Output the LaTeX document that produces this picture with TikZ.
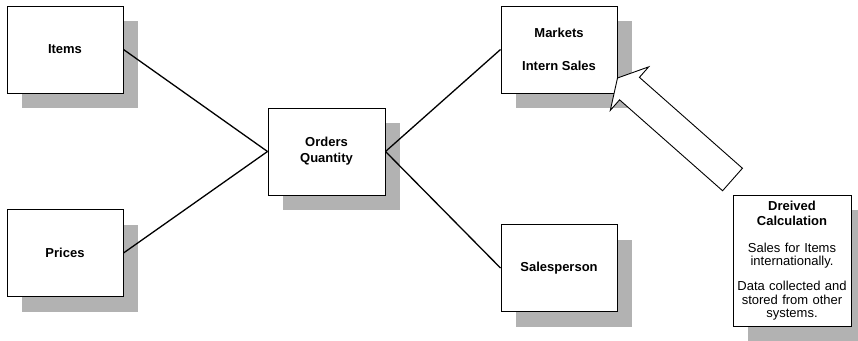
\documentclass[tikz,border=0pt]{standalone}
\usepackage{fontspec}
\setmainfont{Liberation Sans}
\usetikzlibrary{positioning,calc,shadows}
\definecolor{cInk}{HTML}{000000}
\definecolor{cShade}{HTML}{B2B2B2}
\tikzset{
  ent/.style ={draw=cInk,line width=1pt,fill=white,minimum width=116pt,minimum height=87pt,
               inner sep=2pt,align=center,font=\fontsize{13}{16}\selectfont\bfseries,
               drop shadow={shadow xshift=15pt,shadow yshift=-15pt,fill=cShade,opacity=1}},
  note/.style={ent,minimum width=118pt,minimum height=131pt,text width=114pt,
               font=\fontsize{13}{13.4}\selectfont},
  link/.style={draw=cInk,line width=1.3pt},
  fat/.style ={draw=cInk,line width=0.9pt,fill=white,line join=miter},
}
\begin{document}
\begin{tikzpicture}[x=1pt,y=-1pt]
\useasboundingbox (0,0) rectangle (858,340);
\node[ent]  (items)   at (65,49.5)    {Items};
\node[ent]  (prices)  at (65,253)     {Prices};
\node[ent,minimum width=117pt] (orders) at (326.5,151.5) {Orders\\Quantity};
\node[ent]  (markets) at (559,49.5)   {Markets\\[17pt]Intern Sales};
\node[ent]  (seller)  at (559,268)    {Salesperson};
\node[note] (derived) at (792,260.5)  {{\bfseries Dreived\\[1.6pt]Calculation}\\[14pt]
   Sales for Items\\internationally.\\[11.5pt]
   Data collected and\\stored from other\\systems.};
\draw[link] (items.east)  -- (orders.west);
\draw[link] (prices.east) -- (orders.west);
\draw[link] (orders.east) -- (markets.west);
\draw[link] (orders.east) -- (seller.west);
% block arrow from the note up to the markets box
\coordinate (tipM)  at ([yshift=-28.5pt]markets.east);
\coordinate (tailD) at ([yshift=15pt]derived.north west);
\coordinate (neck)  at ($(tipM)!16pt!(tailD)$);
\draw[fat] ($(tailD)!15pt!90:(tipM)$) -- ($(neck)!15pt!90:(tipM)$) -- ($(neck)!29pt!90:(tipM)$)
   -- (tipM) -- ($(neck)!29pt!-90:(tipM)$) -- ($(neck)!15pt!-90:(tipM)$)
   -- ($(tailD)!15pt!-90:(tipM)$) -- cycle;
\end{tikzpicture}
\end{document}
